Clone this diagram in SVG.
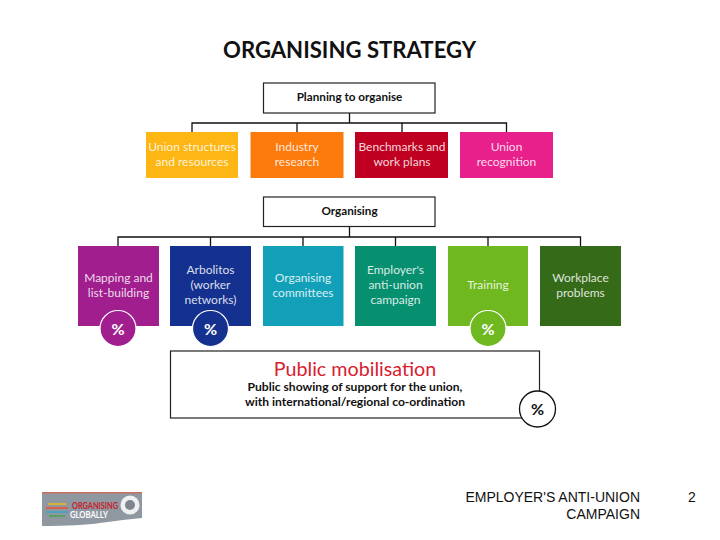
<svg xmlns="http://www.w3.org/2000/svg" width="720" height="540" viewBox="0 0 720 540">
<style>
text{font-family:Lato,"Open Sans","Liberation Sans",sans-serif;text-anchor:middle}
.box{fill:#fff;stroke:#222;stroke-width:1.2}
.h{font-size:11.7px;font-weight:700;fill:#111}
.s{font-size:12.100px;font-weight:700;fill:#111}
.t{font-size:12px;fill:#fff;fill-opacity:.85}
.p{font-size:16px;font-weight:700;fill:#fff}
.c{stroke:#fff;stroke-width:1.2}
.ln{fill:none;stroke:#111;stroke-width:1.3}
.f{font-family:"Liberation Sans",Arial,sans-serif;font-size:14px;fill:#111}
</style>
<rect width="720" height="540" fill="#fff"/>
<text id="title" x="349.500" y="58" font-size="22.500" font-weight="700" fill="#111" textLength="253" lengthAdjust="spacingAndGlyphs">ORGANISING STRATEGY</text>
<g id="connectors" class="ln">
<path d="M349.500 113V123M192 132V123H506.500V132M297 123V132M402 123V132"/>
<path d="M349.500 226V237M118 246V237H580.500V246M210.500 237V246M303 237V246M395.500 237V246M488 237V246"/>
</g>
<g id="planning"><rect class="box" x="263.500" y="83" width="171.500" height="30"/><text class="h" x="349.500" y="101">Planning to organise</text></g>
<g id="union-structures"><rect x="146" y="132" width="92" height="46" fill="#fdb614"/><text class="t" x="192" y="151">Union structures</text><text class="t" x="192" y="166">and resources</text></g>
<g id="industry-research"><rect x="250.500" y="132" width="93" height="46" fill="#fd7a0d"/><text class="t" x="297" y="151">Industry</text><text class="t" x="297" y="166">research</text></g>
<g id="benchmarks"><rect x="355" y="132" width="93" height="46" fill="#c00020"/><text class="t" x="402" y="151">Benchmarks and</text><text class="t" x="402" y="166">work plans</text></g>
<g id="union-recognition"><rect x="460" y="132" width="93" height="46" fill="#e8208c"/><text class="t" x="506.500" y="151">Union</text><text class="t" x="506.500" y="166">recognition</text></g>
<g id="organising"><rect class="box" x="263.500" y="197" width="171.500" height="29.500"/><text class="h" x="349.500" y="215">Organising</text></g>
<g id="mapping"><rect x="78" y="246" width="81" height="80" fill="#a01e8e"/><text class="t" x="118.500" y="282">Mapping and</text><text class="t" x="118.500" y="297">list-building</text><circle class="c" cx="118" cy="328.500" r="18" fill="#a01e8e"/><text class="p" x="118" y="334.500">%</text></g>
<g id="arbolitos"><rect x="170" y="246" width="81" height="80" fill="#15318f"/><text class="t" x="210.500" y="274">Arbolitos</text><text class="t" x="210.500" y="289">(worker</text><text class="t" x="210.500" y="304">networks)</text><circle class="c" cx="210.500" cy="328.500" r="18" fill="#15318f"/><text class="p" x="210.500" y="334.500">%</text></g>
<g id="committees"><rect x="263" y="246" width="80.500" height="80" fill="#12a0b8"/><text class="t" x="303" y="282">Organising</text><text class="t" x="303" y="297">committees</text></g>
<g id="anti-union"><rect x="355" y="246" width="81" height="80" fill="#07906f"/><text class="t" x="395.500" y="274">Employer's</text><text class="t" x="395.500" y="289">anti-union</text><text class="t" x="395.500" y="304">campaign</text></g>
<g id="training"><rect x="448" y="246" width="80" height="80" fill="#6fb820"/><text class="t" x="488" y="289">Training</text><circle class="c" cx="488" cy="328.500" r="18" fill="#6fb820"/><text class="p" x="488" y="334.500">%</text></g>
<g id="workplace"><rect x="540" y="246" width="81" height="80" fill="#356a18"/><text class="t" x="580.500" y="282">Workplace</text><text class="t" x="580.500" y="297">problems</text></g>
<g id="public"><rect class="box" x="170.500" y="351" width="369" height="67"/><text x="355" y="375.500" font-size="19.700" fill="#d8202f">Public mobilisation</text><text class="s" x="355" y="391">Public showing of support for the union,</text><text class="s" x="355" y="406">with international/regional co-ordination</text><circle cx="537.500" cy="409" r="18" fill="#fff" stroke="#111" stroke-width="1.300"/><text x="537.500" y="415" font-size="16" font-weight="700" fill="#111">%</text></g>
<g id="logo"><path d="M42 492H142V518Q120 520 100 523T42 526Z" fill="#8f98a0"/><rect x="42" y="492" width="100" height="1.500" fill="#c8705a"/>
<path d="M48 504H66" stroke="#d9b23a" stroke-width="2"/><path d="M46 508H68" stroke="#d8604a" stroke-width="2"/><path d="M46 512H68" stroke="#4fa0c0" stroke-width="2"/><path d="M49 516H65" stroke="#58a060" stroke-width="2"/>
<text x="95" y="509" font-size="8.500" font-weight="700" fill="#c8202c" textLength="46" lengthAdjust="spacingAndGlyphs">ORGANISING</text><text x="89" y="518" font-size="8.500" font-weight="700" fill="#fff" textLength="38" lengthAdjust="spacingAndGlyphs">GLOBALLY</text>
<circle cx="130" cy="505" r="9.500" fill="#fff" fill-opacity=".85"/><circle cx="130" cy="505" r="5" fill="#7d868e"/></g>
<g id="footer"><text class="f" x="640" y="502" style="text-anchor:end">EMPLOYER'S ANTI-UNION</text><text class="f" x="640" y="519" style="text-anchor:end">CAMPAIGN</text><text class="f" x="692" y="502">2</text></g>
</svg>
